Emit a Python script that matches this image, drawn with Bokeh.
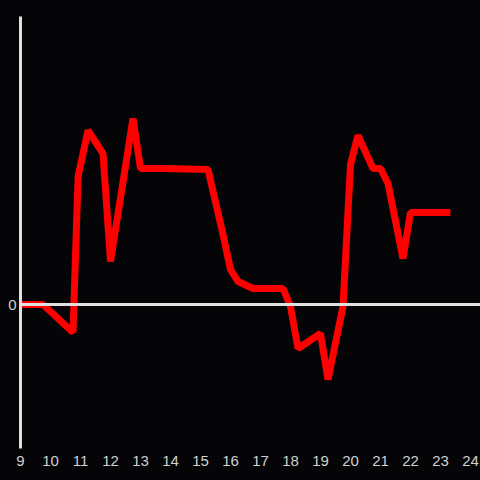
from bokeh.plotting import figure
from bokeh.models import Range1d, FixedTicker, Span, ColumnDataSource
from bokeh.embed import file_html
from bokeh.resources import INLINE

# Time of day (hours) and values
hours = [9.0, 9.75, 10.75, 10.92, 11.25, 11.75, 12.0, 12.75, 13.0, 13.75,
         15.25, 15.75, 16.0, 16.25, 16.75, 17.75, 18.0, 18.25, 19.0, 19.25,
         19.75, 20.0, 20.25, 20.75, 21.0, 21.25, 21.75, 22.0, 23.33]
values = [0.0, 0.0, -2.8, 12.8, 17.4, 15.1, 4.3, 18.6, 13.6, 13.6,
          13.5, 7.0, 3.5, 2.3, 1.6, 1.6, -0.2, -4.4, -2.9, -7.5,
          -0.2, 14.0, 16.9, 13.6, 13.6, 12.1, 4.6, 9.2, 9.2]
x_ticks = list(range(9, 25))
y_ticks = [0]

BG = "#050507"
AXIS = "#e0e0e0"
LABEL = "#d0d0d0"

src = ColumnDataSource(data=dict(x=hours, y=values))

p = figure(frame_width=460, frame_height=432, output_backend="svg",
           toolbar_location=None,
           x_range=Range1d(9, 9 + 460 / 30), y_range=Range1d(-14.4, 28.8),
           min_border_left=20, min_border_top=16, min_border_right=0,
           min_border_bottom=4, background_fill_color=BG,
           border_fill_color=BG, outline_line_color=None)

p.grid.visible = False

p.xaxis.ticker = FixedTicker(ticks=x_ticks)
p.xaxis.axis_line_color = None
p.xaxis.major_tick_line_color = None
p.xaxis.minor_tick_line_color = None
p.xaxis.major_tick_out = 0
p.xaxis.major_tick_in = 0
p.xaxis.major_label_standoff = 7
p.xaxis.major_label_text_color = LABEL
p.xaxis.major_label_text_font = "Liberation Sans"
p.xaxis.major_label_text_font_size = "15px"

p.yaxis.ticker = FixedTicker(ticks=y_ticks)
p.yaxis.axis_line_color = AXIS
p.yaxis.axis_line_width = 3
p.yaxis.major_tick_line_color = None
p.yaxis.minor_tick_line_color = None
p.yaxis.major_tick_out = 0
p.yaxis.major_tick_in = 0
p.yaxis.major_label_standoff = 4
p.yaxis.major_label_text_color = LABEL
p.yaxis.major_label_text_font = "Liberation Sans"
p.yaxis.major_label_text_font_size = "15px"

zero = Span(location=0, dimension="width", line_color=AXIS, line_width=3)
p.add_layout(zero)

p.line("x", "y", source=src, line_color="#ff0000", line_width=7)

html = file_html(p, INLINE)
html = html.replace("</head>", "<style>html,body{background:%s;}</style></head>" % BG, 1)
open("out.html", "w").write(html)
